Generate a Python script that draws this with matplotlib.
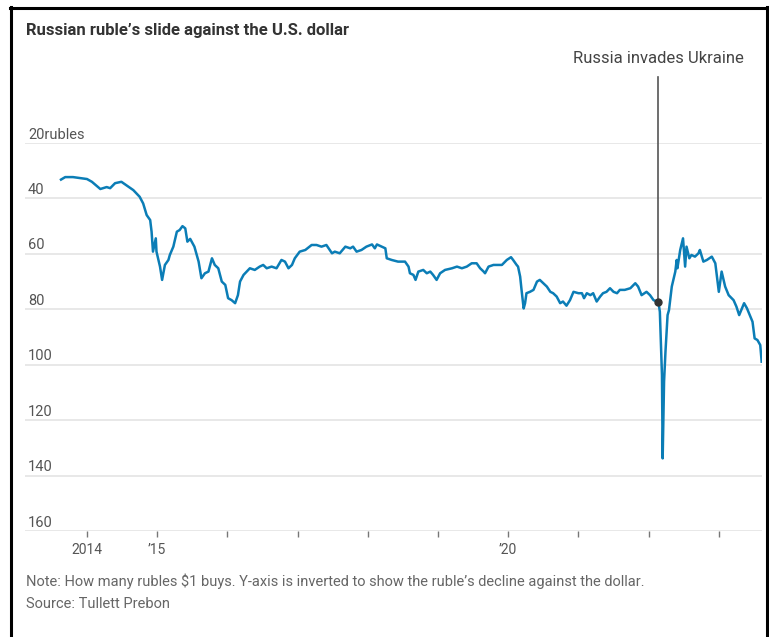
import matplotlib
matplotlib.use("Agg")
import matplotlib.pyplot as plt
from matplotlib import font_manager
from matplotlib.lines import Line2D
from matplotlib.transforms import offset_copy

# rubles per dollar (decimal years)
years = [2013.63, 2013.69, 2013.80, 2014.00, 2014.07, 2014.19, 2014.28, 2014.33, 2014.40,
         2014.49, 2014.57, 2014.66, 2014.75, 2014.80, 2014.85, 2014.90, 2014.92, 2014.94,
         2014.98, 2014.99, 2015.04, 2015.07, 2015.11, 2015.16, 2015.18, 2015.23, 2015.28,
         2015.32, 2015.36, 2015.40, 2015.43, 2015.47, 2015.53, 2015.59, 2015.63, 2015.68,
         2015.73, 2015.78, 2015.82, 2015.87, 2015.92, 2015.97, 2016.01, 2016.06, 2016.11,
         2016.15, 2016.18, 2016.23, 2016.32, 2016.39, 2016.46, 2016.51, 2016.56, 2016.63,
         2016.70, 2016.77, 2016.82, 2016.87, 2016.92, 2016.96, 2017.03, 2017.11, 2017.20,
         2017.27, 2017.34, 2017.41, 2017.49, 2017.53, 2017.60, 2017.68, 2017.75, 2017.79,
         2017.84, 2017.91, 2017.98, 2018.06, 2018.10, 2018.13, 2018.20, 2018.25, 2018.27,
         2018.34, 2018.43, 2018.53, 2018.58, 2018.60, 2018.65, 2018.68, 2018.72, 2018.79,
         2018.84, 2018.89, 2018.93, 2018.98, 2019.03, 2019.10, 2019.20, 2019.27, 2019.34,
         2019.41, 2019.48, 2019.55, 2019.60, 2019.65, 2019.67, 2019.72, 2019.79, 2019.86,
         2019.91, 2019.98, 2020.04, 2020.07, 2020.12, 2020.14, 2020.17, 2020.19, 2020.22,
         2020.24, 2020.26, 2020.31, 2020.36, 2020.41, 2020.45, 2020.50, 2020.55, 2020.60,
         2020.64, 2020.69, 2020.74, 2020.78, 2020.83, 2020.88, 2020.93, 2021.00, 2021.05,
         2021.08, 2021.12, 2021.17, 2021.21, 2021.26, 2021.31, 2021.35, 2021.40, 2021.45,
         2021.50, 2021.55, 2021.59, 2021.66, 2021.74, 2021.81, 2021.85, 2021.90, 2021.97,
         2022.02, 2022.07, 2022.12, 2022.14, 2022.16, 2022.19, 2022.20, 2022.22, 2022.24,
         2022.27, 2022.29, 2022.33, 2022.38, 2022.40, 2022.41, 2022.45, 2022.49, 2022.52,
         2022.54, 2022.58, 2022.61, 2022.66, 2022.71, 2022.73, 2022.78, 2022.83, 2022.90,
         2022.95, 2022.97, 2023.00, 2023.04, 2023.09, 2023.14, 2023.21, 2023.25, 2023.29,
         2023.32, 2023.36, 2023.40, 2023.44, 2023.48, 2023.51, 2023.55, 2023.59, 2023.61]
rubles = [33.2, 32.3, 32.3, 33.0, 34.0, 36.6, 35.9, 36.3, 34.5,
          34.0, 35.4, 37.0, 39.4, 41.8, 46.0, 47.8, 52.0, 59.2,
          54.4, 59.2, 64.6, 69.4, 64.0, 62.2, 60.4, 57.4, 52.0,
          51.4, 50.0, 50.8, 55.6, 54.6, 57.4, 62.8, 68.8, 67.0,
          66.4, 61.6, 64.0, 65.2, 70.0, 71.2, 76.0, 76.7, 77.8,
          74.9, 70.0, 67.6, 65.2, 65.8, 64.6, 64.0, 65.2, 64.6,
          65.2, 62.2, 62.8, 65.2, 64.0, 61.6, 59.2, 58.6, 56.8,
          56.8, 57.4, 56.8, 59.8, 59.2, 59.8, 57.4, 58.0, 57.4,
          59.2, 58.6, 57.4, 56.6, 58.0, 56.6, 57.4, 58.0, 61.6,
          62.2, 62.8, 62.8, 64.6, 67.0, 67.6, 69.4, 66.4, 65.8,
          67.0, 66.4, 67.6, 69.4, 67.0, 65.8, 65.2, 64.6, 65.2,
          64.6, 63.4, 63.4, 65.2, 66.4, 67.0, 64.6, 64.0, 64.0,
          64.0, 62.2, 61.2, 62.2, 64.0, 64.6, 68.2, 73.0, 79.7,
          77.8, 74.2, 73.7, 73.0, 70.0, 69.4, 70.6, 71.8, 73.7,
          74.2, 75.4, 77.8, 77.2, 78.7, 76.7, 73.7, 74.2, 74.2,
          76.0, 74.2, 74.9, 74.2, 77.2, 75.4, 74.2, 73.7, 72.4,
          73.7, 74.2, 73.0, 73.0, 72.4, 70.6, 71.8, 74.9, 73.7,
          74.9, 76.7, 77.2, 77.5, 80.9, 103.7, 133.8, 106.1, 95.3,
          82.1, 80.3, 71.8, 66.4, 62.2, 65.2, 58.6, 54.4, 64.6,
          57.4, 61.6, 60.4, 61.0, 59.8, 58.6, 62.8, 62.2, 61.0,
          63.4, 67.6, 73.7, 66.4, 71.8, 74.9, 76.7, 79.0, 82.1,
          80.3, 77.8, 79.6, 82.1, 84.5, 90.5, 91.1, 92.9, 98.9]

invasion_year = 2022.14
invasion_value = 77.5

yticks = [20, 40, 60, 80, 100, 120, 140, 160]
ytick_labels = ["20rubles", "40", "60", "80", "100", "120", "140", "160"]
xticks = list(range(2014, 2024))
xtick_labels = ["2014", "\u201915", "", "", "", "", "\u201920", "", "", ""]

names = {f.name for f in font_manager.fontManager.ttflist}
font = "Liberation Sans Narrow" if "Liberation Sans Narrow" in names else "Roboto"
plt.rcParams["font.family"] = font

W, H = 769, 637
fig = plt.figure(figsize=(W / 100, H / 100), dpi=100)
ax = fig.add_axes([25 / W, 1 - 531 / H, (762 - 25) / W, 388 / H])

ax.plot(years, rubles, color="#0b7db6", lw=1.8, zorder=3, solid_joinstyle="round")
ax.set_ylim(160, 20)
ax.set_xlim(2013.117, 2023.615)

for v in yticks:
    ax.axhline(v, color="#e4e4e4", lw=1.2, zorder=1)
ax.set_yticks([])
for s in ax.spines.values():
    s.set_visible(False)

ax.set_xticks(xticks)
ax.set_xticklabels(xtick_labels)
ax.tick_params(axis="x", length=4, width=1, color="#777777", labelcolor="#555555",
               labelsize=10, pad=5)

# y labels sit on top of their gridlines
trans = offset_copy(ax.get_yaxis_transform(), fig=fig, x=0, y=1, units="points")
for v, lab in zip(yticks, ytick_labels):
    ax.text(0.004, v, lab, transform=trans, ha="left", va="bottom",
            fontsize=10.5, color="#555555")

# invasion marker
ax.plot([invasion_year, invasion_year], [invasion_value, -3.8], color="#555555",
        lw=1.2, clip_on=False, zorder=2)
ax.plot(invasion_year, invasion_value, "o", color="#333333", ms=5, zorder=4)
ax.text(invasion_year, -10.5, "Russia invades Ukraine", ha="center", va="center",
        fontsize=12, color="#444444")

fig.text(26 / W, 1 - 30 / H, "Russian ruble\u2019s slide against the U.S. dollar",
         ha="left", va="center", fontsize=12, fontweight="bold", color="#333333")
fig.text(26 / W, 1 - 581 / H,
         "Note: How many rubles $1 buys. Y-axis is inverted to show the ruble\u2019s decline against the dollar.",
         ha="left", va="center", fontsize=10.5, color="#666666")
fig.text(26 / W, 1 - 604 / H, "Source: Tullett Prebon", ha="left", va="center",
         fontsize=10.5, color="#666666")

# frame around the graphic
fig.add_artist(Line2D([10.5 / W, 10.5 / W], [0, 1 - 7 / H], color="black", lw=2.2))
fig.add_artist(Line2D([9.5 / W, 767 / W], [1 - 7.5 / H, 1 - 7.5 / H], color="black", lw=2.2))
fig.add_artist(Line2D([766.5 / W, 766.5 / W], [0, 1 - 7 / H], color="black", lw=2.2))

fig.savefig("out.png", dpi=100)
